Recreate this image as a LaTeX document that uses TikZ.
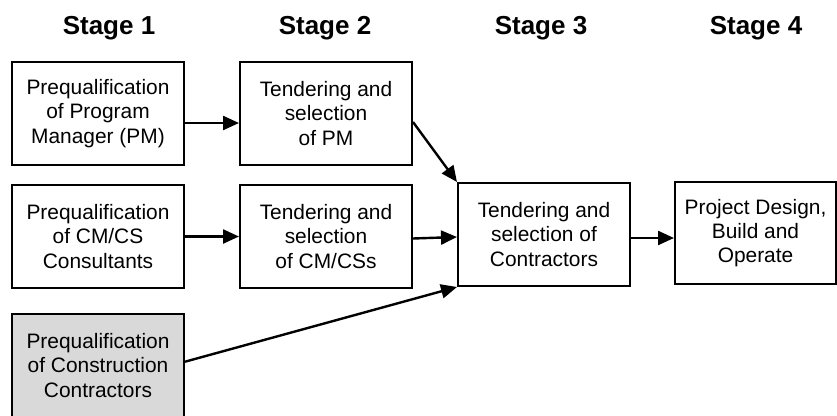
\documentclass[tikz,border=0pt]{standalone}
\usepackage{fontspec}
\setmainfont{Liberation Sans}
\usetikzlibrary{arrows.meta}
\begin{document}
\begin{tikzpicture}[x=1pt, y=-1pt, line width=2.4pt, >={Triangle[length=16pt,width=14pt]},
  stage box/.style={rectangle,draw,line width=2pt,minimum width=172pt,minimum height=103pt,inner sep=0pt,align=center,font=\fontsize{20.9}{24.4}\selectfont},
  stage head/.style={font=\fontsize{26}{30}\selectfont\bfseries}]
\useasboundingbox (0,0) rectangle (837,415);
\clip (0,0) rectangle (837,415);
\begin{scope}[every node/.style={stage head}]
\node (h1) at (109,28) {Stage 1};
\node (h2) at (325,28) {Stage 2};
\node (h3) at (541,28) {Stage 3};
\node (h4) at (756,28) {Stage 4};
\end{scope}
\node [stage box](pm) at (98,113.5) {Prequalification\\of Program\\Manager (PM)};
\node [stage box](tpm) at (326,113.5) {Tendering and\\selection\\of PM};
\node [stage box](cm) at (98,236.5) {Prequalification\\of CM/CS\\Consultants};
\node [stage box](tcm) at (326,236.5) {Tendering and\\selection\\of CM/CSs};
\node [stage box,fill=black!15](cc) at (98,365.5) {Prequalification\\of Construction\\Contractors};
\node [stage box](tc) at (544,234.5) {Tendering and\\selection of\\Contractors};
\node [stage box,minimum width=161pt,minimum height=102pt](pdbo) at (755.5,233) {Project Design,\\Build and\\Operate};
\path
	([yshift=-9.5pt]pm.east) edge [->] ([yshift=-9.5pt]tpm.west)
	(cm) edge [->] (tcm)
	([yshift=-2pt]tcm.east) edge [->] ([yshift=-2.5pt]tc.west)
	([yshift=-8.5pt]tpm.east) edge [->] (tc.north west)
	([yshift=3.8pt]cc.east) edge [->] (tc.south west)
	([yshift=-3.5pt]tc.east) edge [->] ([yshift=-5pt]pdbo.west)
	;
\end{tikzpicture}
\end{document}
